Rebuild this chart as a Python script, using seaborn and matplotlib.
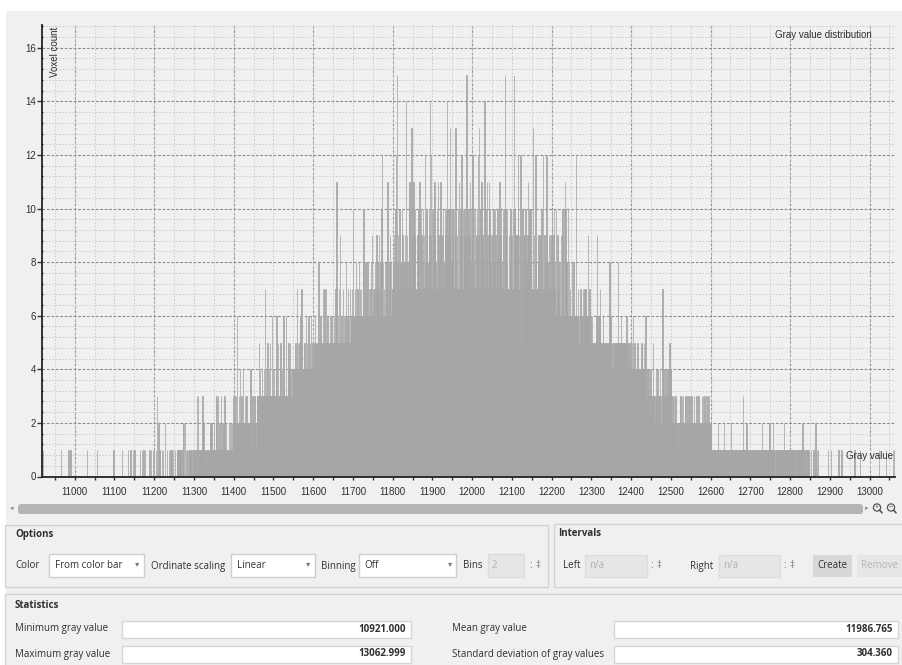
import numpy as np
import pandas as pd
import seaborn as sns
import matplotlib
matplotlib.use("Agg")
import matplotlib.pyplot as plt
from matplotlib.patches import Rectangle, FancyBboxPatch, Circle
from matplotlib.ticker import MultipleLocator, StrMethodFormatter

# Voxel counts per gray value, one hex digit per value (0-f), 50 values per row
row_starts = list(range(10900, 13051, 50))
count_rows = [
    "0000000000 0000000000 0100000000 0000000000 0000000000",
    "0000000000 0000001000 0000000000 0000100001 0000000000",
    "0000000000 0000000000 0000000000 0100000000 0000000000",
    "0000001000 0000000000 0000000000 0000000000 0000000010",
    "0000000000 0000000001 0000000000 0000100000 1000001000",
    "1000000000 0000010001 0001000100 0000000010 0010000100",
    "1000100300 0201010001 0010000200 0010000010 0100100100",
    "0001000101 0100101010 0122020200 1011010101 0101100101",
    "1010110301 0310101101 1031201110 1101101011 1120211011",
    "1211121310 1311211131 1121121311 2111001121 1212112132",
    "2232223262 2223224222 3222422232 2232222112 2242211322",
    "2232211223 3335333433 3343334337 3343353334 3353336334",
    "3343334363 3353334353 3433363433 3363334353 4531143343",
    "3434435437 4454445464 4744114454 4464454465 4454644454",
    "5455464555 5458555465 5455575557 5575556555 5465556555",
    "555655755b 5556575955 5655575565 5658556755 6557566575",
    "6a66676686 6676668676 6766686a66 6786667866 6766786696",
    "6676686769 6686769668 67ac668676 6866786b55 6786968676",
    "7687967ac7 7f87977a78 7787a97877 798e779877 7ab7a77d97",
    "8ab7797a77 55797a87b7 7a79778a79 7c787a9777 8a79e7c97a",
    "779a7b7987 7a77b97879 b7a7797a77 8a7977ae97 7a9ad77a87",
    "7a97a779d7 8797a77b79 7a8c977a79 8a7977fa79 7a979b7a87",
    "7c97a87a79 977a9c7d97 7a97b79787 7e97a77b89 77b7a98797",
    "7979a87a79 7787a9787b 79a9787a97 7af7a97a87 5579787a97",
    "797a7f7a79 77989ac797 79c5579a87 9797a77879 7b97a79a87",
    "767d79767c 8676787969 76987a76c7 7696787c69 6787969786",
    "9a6769a786 6a66796876 6869669a69 6a6b9a6868 6a68666766",
    "6856686566 66c6567656 5657565667 5657575665 6596576565",
    "5564555545 5556955465 6755554556 5553355545 5554558565",
    "5454555445 4545445845 4545465454 4545445464 5445455445",
    "4445464435 4434445434 4434445354 4445346443 3434343334",
    "3232353232 2343234323 2324232327 3242342324 3232423524",
    "4222322232 2232222112 2223322232 3222232322 2232222322",
    "2232221232 2212232122 3222221232 2322232223 2232223222",
    "2111111111 1111111121 1111111111 1111211111 1111111110",
    "0121111111 1111111111 1111111111 1311111111 2111101111",
    "1100111111 1111111111 1111111111 2111111111 1111001121",
    "1111111211 1001111111 1111111111 1111211111 0011111111",
    "1111111111 1111100111 1101110011 1211011100 0101101000",
    "0001000001 0000200100 1000000000 0000000000 0000010000",
    "0001000000 0000000000 0010000001 0000000000 0000000000",
    "0000000000 0010000000 0000001000 0000000000 0000000000",
    "0000000000 0000000000 0000100000 0000000000 0100000000",
    "0000000001 001",
]

stat_labels = ["Minimum gray value", "Maximum gray value",
               "Mean gray value", "Standard deviation of gray values"]
stat_values = ["10921.000", "13062.999", "11986.765", "304.360"]

gray, count = [], []
for start, row in zip(row_starts, count_rows):
    digits = row.replace(" ", "")
    gray.extend(start + i for i in range(len(digits)))
    count.extend(int(c, 16) for c in digits)
df = pd.DataFrame({"gray": gray, "count": count})
df = df[df["count"] > 0]

BAR = "#a6a6a6"
BG = "#f0f0f0"
TXT = "#303030"
PF = ["Open Sans", "Noto Sans", "DejaVu Sans"]

sns.set_theme(style="white")
plt.rcParams["font.family"] = ["Liberation Sans", "DejaVu Sans"]

fig = plt.figure(figsize=(9.02, 6.65), dpi=100, facecolor="white")

# widget layer in pixel coordinates
ui = fig.add_axes([0, 0, 1, 1], zorder=0)
ui.set_xlim(0, 902)
ui.set_ylim(665, 0)
ui.axis("off")
ui.add_patch(Rectangle((6, 11), 900, 660, fc=BG, ec="none"))

ax = fig.add_axes([41.7 / 902, (665 - 476.5) / 665, (895 - 41.7) / 902, (476.5 - 25) / 665], zorder=1)
ax.set_facecolor(BG)
sns.histplot(data=df, x="gray", weights="count", discrete=True, color=BAR,
             edgecolor=BAR, linewidth=0.55, alpha=1, ax=ax)
ax.set_xlim(10917, 13064)
ax.set_ylim(0, 16.85)
ax.set_xlabel("")
ax.set_ylabel("")

ax.xaxis.set_major_locator(MultipleLocator(100))
ax.xaxis.set_minor_locator(MultipleLocator(50))
ax.yaxis.set_major_locator(MultipleLocator(2))
ax.yaxis.set_minor_locator(MultipleLocator(0.4))
ax.xaxis.set_major_formatter(StrMethodFormatter("{x:.0f}"))
ax.yaxis.set_major_formatter(StrMethodFormatter("{x:.0f}"))

ax.set_axisbelow(True)
light = dict(color="#c6c6c6", linestyle=(0, (2, 2)), linewidth=0.6)
dark = dict(color="#8c8c8c", linestyle=(0, (2.5, 1.5)), linewidth=0.8)
ax.grid(which="minor", **light)
ax.grid(which="major", axis="x", **light)
ax.grid(which="major", axis="y", **dark)
for xv in np.arange(11000, 13064, 200):
    ax.axvline(xv, zorder=0.5, **dark)

ax.tick_params(axis="x", which="major", length=2.5, width=1, color="#333333",
               labelsize=7, labelcolor=TXT, pad=5, direction="out", bottom=True)
ax.tick_params(axis="x", which="minor", length=2.5, width=1, color="#333333",
               direction="out", bottom=True)
ax.tick_params(axis="y", which="major", length=3.5, width=1, color="#333333",
               labelsize=7, labelcolor=TXT, pad=0.5, direction="out", left=True)
ax.tick_params(axis="y", which="minor", length=2, width=1, color="#333333",
               direction="inout", left=True)
for s in ["top", "right"]:
    ax.spines[s].set_visible(False)
for s in ["left", "bottom"]:
    ax.spines[s].set_color("#222222")
    ax.spines[s].set_linewidth(1.3)

# chart captions
fig.text(55 / 902, 1 - 27 / 665, "Voxel count", rotation=90, ha="center", va="top",
         fontsize=7, color=TXT, zorder=5)
fig.text(872 / 902, 1 - 35 / 665, "Gray value distribution", ha="right", va="center",
         fontsize=7, color=TXT, zorder=5)
fig.text(893 / 902, 1 - 456 / 665, "Gray value", ha="right", va="center",
         fontsize=7, color=TXT, zorder=5)

# scroll bar and zoom buttons
ui.add_patch(FancyBboxPatch((18, 504), 845, 10, boxstyle="round,pad=0,rounding_size=3",
                            fc="#b5b5b5", ec="none"))
ui.text(12, 509, "◂", ha="center", va="center", fontsize=5, color="#8a8a8a", family=PF)
ui.text(867, 509, "▸", ha="center", va="center", fontsize=5, color="#8a8a8a", family=PF)
for cx, sign in [(877, "+"), (891, "−")]:
    ui.add_patch(Circle((cx, 507.5), 3.6, fill=False, ec="#555555", lw=0.9))
    ui.plot([cx + 2.6, cx + 5], [510.1, 512.8], color="#555555", lw=1.2)
    ui.text(cx, 507.6, sign, ha="center", va="center", fontsize=5, color="#555555", family=PF)

# group boxes
def frame(x0, y0, x1, y1, fc="none", ec="#d3d3d3", lw=1.0):
    ui.add_patch(Rectangle((x0, y0), x1 - x0, y1 - y0, fc=fc, ec=ec, lw=lw))

frame(5, 525, 548, 587)
frame(554, 524, 906, 587)
frame(5, 594, 906, 675)

def label(x, y, s, color=TXT, weight="normal", ha="left"):
    ui.text(x, y, s, ha=ha, va="center", fontsize=7, color=color, weight=weight, family=PF)

label(15, 534, "Options", weight="bold")
label(558, 534, "Intervals", weight="bold")
label(15, 605, "Statistics", weight="bold")

# option row
label(15, 566, "Color")
frame(49, 554, 144, 577, fc="white", ec="#cfcfcf")
label(55, 566, "From color bar")
label(151, 566, "Ordinate scaling")
frame(231, 554, 315, 577, fc="white", ec="#cfcfcf")
label(237, 566, "Linear")
label(321, 566, "Binning")
frame(359, 554, 456, 577, fc="white", ec="#cfcfcf")
label(364, 566, "Off")
for arrow_x in [137, 308, 450]:
    ui.text(arrow_x, 565, "▾", ha="center", va="center", fontsize=6, color="#777777", family=PF)
label(463, 566, "Bins")
frame(488, 554, 524, 577, fc="#e6e6e6", ec="#dddddd")
label(492, 566, "2", color="#b0b0b0")

# interval row
label(563, 566, "Left")
frame(585, 555, 647, 577, fc="#e6e6e6", ec="#dddddd")
label(589, 566, "n/a", color="#b0b0b0")
label(690, 566, "Right")
frame(719, 555, 780, 577, fc="#e6e6e6", ec="#dddddd")
label(723, 566, "n/a", color="#b0b0b0")
for sx in [531, 652, 785]:
    ui.text(sx, 565, ":", ha="center", va="center", fontsize=7, color="#777777", family=PF)
    ui.text(sx + 7, 566, "‡", ha="center", va="center", fontsize=7, color="#777777", family=PF)
frame(813, 555, 852, 577, fc="#d8d8d8", ec="none")
label(832.5, 566, "Create", ha="center")
frame(857, 555, 910, 577, fc="#e6e6e6", ec="none")
label(861, 566, "Remove", color="#b6b6b6")

# statistics fields
field_x = [(122, 411), (122, 411), (614, 898), (614, 898)]
field_y = [621, 646, 621, 646]
label_x = [15, 15, 452, 452]
for lab, val, (fx0, fx1), fy, lx in zip(stat_labels, stat_values, field_x, field_y, label_x):
    label(lx, fy + 8, lab)
    frame(fx0, fy, fx1, fy + 16.5, fc="white", ec="#d6d6d6")
    label(fx1 - 5, fy + 8, val, weight="bold", ha="right")

fig.savefig("out.png", dpi=100, facecolor="white")
